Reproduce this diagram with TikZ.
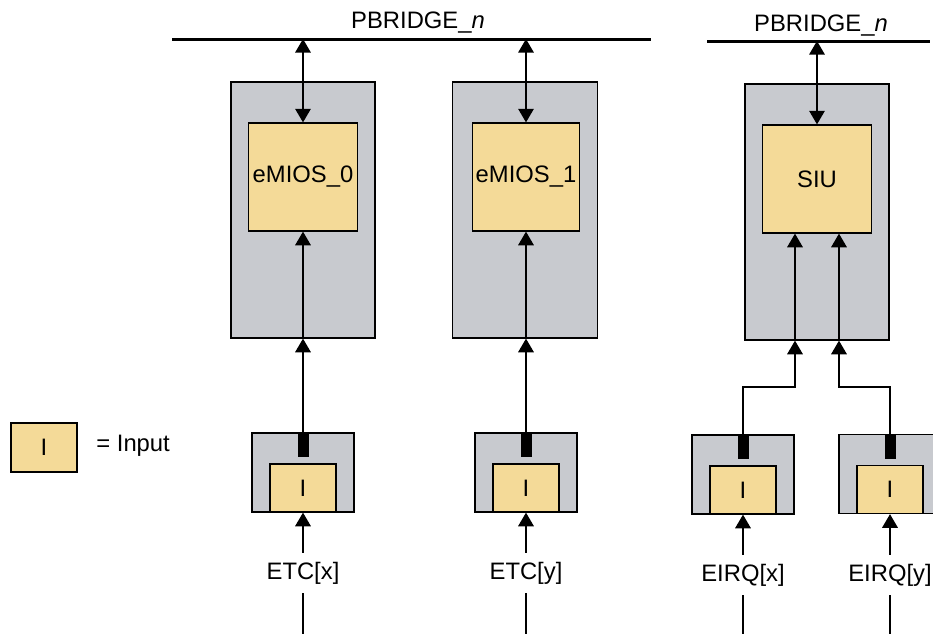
\documentclass[tikz,border=0pt]{standalone}
\usepackage{fontspec}
\setmainfont{Liberation Sans}
\usetikzlibrary{arrows.meta}

\definecolor{blkgray}{RGB}{200,202,207}
\definecolor{modyel}{RGB}{244,218,152}

\begin{document}
\begin{tikzpicture}[x=0.5pt,y=-0.5pt,
  every node/.style={font=\fontsize{11.9}{14}\selectfont},
  blkbox/.style={draw,fill=blkgray,line width=0.65pt,inner sep=0pt},
  modbox/.style={draw,fill=modyel,line width=0.65pt,inner sep=0pt},
  drv/.style={fill=black,inner sep=0pt,minimum width=5.5pt,minimum height=12pt},
  sig/.style={line width=0.65pt,-{Triangle[width=7.8pt,length=6.8pt]}},
  busarr/.style={line width=0.65pt,{Triangle[width=7.8pt,length=6.8pt]}-{Triangle[width=7.8pt,length=6.8pt]}},
  wire/.style={line width=0.65pt},
  siglbl/.style={inner sep=4.3pt},
  bus/.style={line width=1.5pt}]
  \useasboundingbox (0,0) rectangle (933,634);
  \clip (0,0) rectangle (933,634);
  % peripheral bridges
  \coordinate (bus1w) at (172,39);
  \coordinate (bus1e) at (651,39);
  \coordinate (bus2w) at (707,41);
  \coordinate (bus2e) at (930,41);
  \draw[bus] (bus1w) -- (bus1e);
  \draw[bus] (bus2w) -- (bus2e);
  \node[anchor=base] (br1) at (418,28) {PBRIDGE\_\textit{n}};
  \node[anchor=base] (br2) at (821,31) {PBRIDGE\_\textit{n}};
  % modules
  \node[blkbox,minimum width=72pt,minimum height=128pt] (g0) at (303,210) {};
  \node[blkbox,minimum width=72.5pt,minimum height=128pt] (g1) at (525,210) {};
  \node[blkbox,minimum width=72pt,minimum height=128pt] (g2) at (817,212) {};
  \node[modbox,minimum width=54.5pt,minimum height=54pt] (emios0) at (303,177) {eMIOS\_0};
  \node[modbox,minimum width=53.5pt,minimum height=54pt] (emios1) at (526,177) {eMIOS\_1};
  \node[modbox,minimum width=54.5pt,minimum height=54pt] (siu) at (817,179) {SIU};
  \draw[busarr] (emios0.north |- bus1w) -- (emios0.north);
  \draw[busarr] (emios1.north |- bus1w) -- (emios1.north);
  \draw[busarr] (siu.north |- bus2w) -- (siu.north);
  % pads
  \node[blkbox,minimum width=51pt,minimum height=39.5pt] (pa) at (303,472.5) {};
  \node[modbox,minimum width=33pt,minimum height=24pt] (ia) at (303,488) {I};
  \node[drv] (da) at (303,445) {};
  \node[blkbox,minimum width=51pt,minimum height=39.5pt] (pb) at (526,472.5) {};
  \node[modbox,minimum width=33pt,minimum height=24pt] (ib) at (526,488) {I};
  \node[drv] (db) at (526,445) {};
  \node[blkbox,minimum width=51pt,minimum height=39.5pt] (pc) at (743,474.5) {};
  \node[modbox,minimum width=33pt,minimum height=24pt] (ic) at (743,490) {I};
  \node[drv] (dc) at (743,447) {};
  \node[blkbox,minimum width=51pt,minimum height=39.5pt] (pd) at (890,474) {};
  \node[modbox,minimum width=33pt,minimum height=24pt] (id) at (890,489.5) {I};
  \node[drv] (dd) at (890,446.5) {};
  % pad to module
  \draw[sig] (da.north) -- (da.north |- g0.south);
  \draw[sig] (da.north |- g0.south) -- (da.north |- emios0.south);
  \draw[sig] (db.north) -- (db.north |- g1.south);
  \draw[sig] (db.north |- g1.south) -- (db.north |- emios1.south);
  \coordinate (jc) at (795,387);
  \coordinate (jd) at (839,387);
  \draw[sig] (dc.north) |- (jc) -- (jc |- g2.south);
  \draw[sig] (jc |- g2.south) -- (jc |- siu.south);
  \draw[sig] (dd.north) |- (jd) -- (jd |- g2.south);
  \draw[sig] (jd |- g2.south) -- (jd |- siu.south);
  % external inputs
  \coordinate (bot) at (0,634);
  \node[siglbl] (etcx) at (303,573) {ETC[x]};
  \node[siglbl] (etcy) at (526,573) {ETC[y]};
  \node[siglbl] (eirqx) at (743,575) {EIRQ[x]};
  \node[siglbl] (eirqy) at (890,575) {EIRQ[y]};
  \draw[sig] (etcx.north) -- (pa.south);
  \draw[sig] (etcy.north) -- (pb.south);
  \draw[sig] (eirqx.north) -- (pc.south);
  \draw[sig] (eirqy.north) -- (pd.south);
  \draw[wire] (etcx.south) -- (etcx.south |- bot);
  \draw[wire] (etcy.south) -- (etcy.south |- bot);
  \draw[wire] (eirqx.south) -- (eirqx.south |- bot);
  \draw[wire] (eirqy.south) -- (eirqy.south |- bot);
  % key
  \node[modbox,minimum width=33pt,minimum height=24.5pt] (key) at (44,447.5) {I};
  \node[anchor=base west,inner sep=0pt] (keytxt) at (96,451) {= Input};
\end{tikzpicture}
\end{document}
